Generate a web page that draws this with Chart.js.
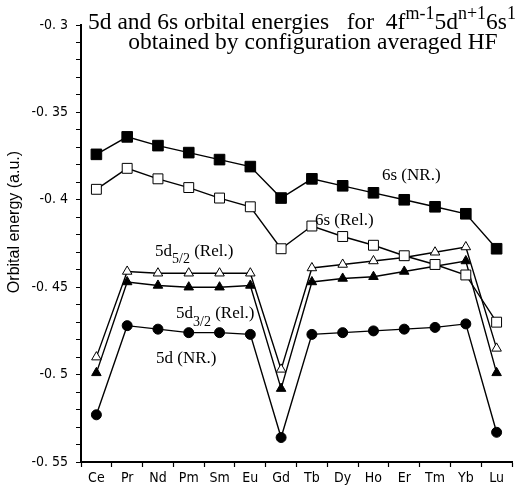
<!DOCTYPE html>
<html>
<head>
<meta charset="utf-8">
<script src="https://cdn.jsdelivr.net/npm/chart.js@4/dist/chart.umd.min.js"></script>
<style>
  html, body { margin: 0; padding: 0; background: #fff; }
  #wrap { width: 528px; height: 492px; }
</style>
</head>
<body>
<div id="wrap"><canvas id="chart" width="528" height="492"></canvas></div>
<script>
const elements = ['Ce', 'Pr', 'Nd', 'Pm', 'Sm', 'Eu', 'Gd', 'Tb', 'Dy', 'Ho', 'Er', 'Tm', 'Yb', 'Lu'];

const s6NR  = [-0.374, -0.364, -0.369, -0.373, -0.377, -0.381, -0.399, -0.388, -0.392, -0.396, -0.400, -0.404, -0.408, -0.428];
const s6Rel = [-0.394, -0.382, -0.388, -0.393, -0.399, -0.404, -0.428, -0.415, -0.421, -0.426, -0.432, -0.437, -0.443, -0.470];
const d52Rel = [-0.490, -0.441, -0.442, -0.442, -0.442, -0.442, -0.497, -0.439, -0.437, -0.435, -0.433, -0.430, -0.427, -0.485];
const d32Rel = [-0.499, -0.447, -0.449, -0.450, -0.450, -0.449, -0.508, -0.447, -0.445, -0.444, -0.441, -0.438, -0.435, -0.499];
const d5NR  = [-0.523, -0.472, -0.474, -0.476, -0.476, -0.477, -0.536, -0.477, -0.476, -0.475, -0.474, -0.473, -0.471, -0.533];

const yMin = -0.55;
const yMax = -0.3;
const yStep = 0.01;

const serif = '"Liberation Serif", "DejaVu Serif", serif';
const tickFont = '"DejaVu Sans Condensed", "Liberation Sans Narrow", sans-serif';

function series(data, style, radius, filled) {
  return {
    data: data,
    borderColor: '#000',
    borderWidth: 1.4,
    pointStyle: style,
    pointRadius: radius,
    pointHoverRadius: radius,
    pointBackgroundColor: filled ? '#000' : '#fff',
    pointBorderColor: '#000',
    pointBorderWidth: 1,
    tension: 0,
    fill: false,
  };
}

// draws the title, the curve labels and the y axis title
const textPlugin = {
  id: 'texts',
  afterDraw(chart) {
    const ctx = chart.ctx;
    ctx.save();
    ctx.fillStyle = '#000';
    ctx.textBaseline = 'alphabetic';

    // run of text pieces: [text, size, dy]
    function run(x, y, parts) {
      parts.forEach(([t, size, dy]) => {
        ctx.font = size + 'px ' + serif;
        ctx.fillText(t, x, y + dy);
        x += ctx.measureText(t).width;
      });
    }

    run(88, 29, [
      ['5d and 6s orbital energies   for  4f', 23.5, 0],
      ['m-1', 18, -10],
      ['5d', 23.5, 0],
      ['n+1', 18, -10],
      ['6s', 23.5, 0],
      ['1', 18, -10],
    ]);
    ctx.font = '23.5px ' + serif;
    ctx.textAlign = 'center';
    ctx.fillText('obtained by configuration averaged HF', 313, 49);
    ctx.textAlign = 'left';

    run(382, 180, [['6s (NR.)', 17, 0]]);
    run(315, 225, [['6s (Rel.)', 17, 0]]);
    run(155, 256, [['5d', 17, 0], ['5/2', 14, 7], [' (Rel.)', 17, 0]]);
    run(176, 318, [['5d', 17, 0], ['3/2', 14, 8], [' (Rel.)', 17, 0]]);
    run(156, 363, [['5d (NR.)', 17, 0]]);

    ctx.translate(15, 222);
    ctx.rotate(-Math.PI / 2);
    ctx.textAlign = 'center';
    ctx.textBaseline = 'middle';
    ctx.font = '16px "Liberation Sans", Arial, sans-serif';
    ctx.fillText('Orbital energy (a.u.)', 0, 0);
    ctx.restore();
  }
};

new Chart(document.getElementById('chart'), {
  type: 'line',
  data: {
    labels: elements,
    datasets: [
      series(s6NR, 'rect', 7.5, true),
      series(s6Rel, 'rect', 7, false),
      series(d52Rel, 'triangle', 5.5, false),
      series(d32Rel, 'triangle', 5.5, true),
      series(d5NR, 'circle', 5, true),
    ],
  },
  options: {
    responsive: false,
    animation: false,
    layout: { padding: { top: 25, right: 16, left: 0, bottom: 0 } },
    plugins: {
      legend: { display: false },
      tooltip: { enabled: false },
    },
    scales: {
      x: {
        offset: true,
        grid: {
          offset: true,
          drawOnChartArea: false,
          drawTicks: true,
          tickLength: 5,
          tickColor: '#000',
          tickWidth: 1.2,
        },
        border: { display: true, color: '#000', width: 2 },
        ticks: {
          color: '#000',
          font: { family: tickFont, size: 14 },
          padding: 3,
          maxRotation: 0,
          autoSkip: false,
        },
        afterFit(scale) { scale.height = 30; },
      },
      y: {
        min: yMin,
        max: yMax,
        grid: {
          drawOnChartArea: false,
          drawTicks: true,
          tickLength: 5,
          tickColor: '#000',
          tickWidth: 1,
        },
        border: { display: true, color: '#000', width: 2 },
        ticks: {
          stepSize: yStep,
          autoSkip: false,
          color: '#000',
          font: { family: tickFont, size: 14 },
          padding: 8,
          callback(value) {
            const h = Math.round(value * 100);
            if (h % 5 !== 0) return '';
            let s = (h / 100).toFixed(2);
            if (s.endsWith('0')) s = s.slice(0, -1);
            return s.replace('.', '. ');
          },
        },
        afterFit(scale) { scale.width = 81; },
      },
    },
  },
  plugins: [textPlugin],
});
</script>
</body>
</html>
